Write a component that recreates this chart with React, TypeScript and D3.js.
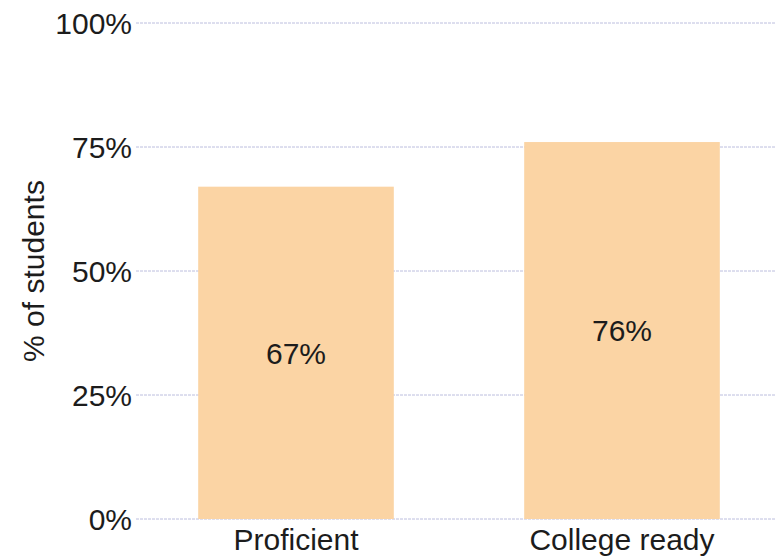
import React from "react";
import * as d3 from "d3";

const categories = ["Proficient", "College ready"];
const values = [67, 76];
const valueLabels = ["67%", "76%"];
const yTicks = [0, 25, 50, 75, 100];
const yTickLabels = ["0%", "25%", "50%", "75%", "100%"];
const yTitle = "% of students";

export default function App() {
  const W = 776;
  const H = 558;
  const y = d3.scaleLinear().domain([0, 100]).range([519, 23]);
  const x = d3
    .scaleBand<string>()
    .domain(categories)
    .range([133, 785])
    .paddingInner(0.4)
    .paddingOuter(0.2);
  const font = "'Liberation Sans', Arial, sans-serif";
  const fs = 30;
  const txt = "#1c1c1c";
  return (
    <svg
      width={W}
      height={H}
      style={{ position: "absolute", left: 0, top: 0, background: "#fff" }}
      fontFamily={font}
    >
      {yTicks.map((t, i) => (
        <g key={t}>
          <line
            x1={136}
            x2={W}
            y1={y(t)}
            y2={y(t)}
            stroke="#bcbede"
            strokeWidth={1}
            strokeDasharray="3,1"
          />
          <text
            x={132}
            y={y(t)}
            dy="0.36em"
            textAnchor="end"
            fontSize={fs}
            fill={txt}
          >
            {yTickLabels[i]}
          </text>
        </g>
      ))}
      {categories.map((c, i) => (
        <g key={c}>
          <rect
            x={x(c)}
            y={y(values[i])}
            width={x.bandwidth()}
            height={y(0) - y(values[i])}
            fill="#fbd4a4"
          />
          <text
            x={(x(c) as number) + x.bandwidth() / 2}
            y={(y(values[i]) + y(0)) / 2}
            dy="0.36em"
            textAnchor="middle"
            fontSize={fs}
            fill={txt}
          >
            {valueLabels[i]}
          </text>
          <text
            x={(x(c) as number) + x.bandwidth() / 2}
            y={550}
            textAnchor="middle"
            fontSize={fs}
            fill={txt}
          >
            {c}
          </text>
        </g>
      ))}
      <text
        transform={`translate(44, ${271}) rotate(-90)`}
        textAnchor="middle"
        fontSize={fs}
        fill={txt}
      >
        {yTitle}
      </text>
    </svg>
  );
}
